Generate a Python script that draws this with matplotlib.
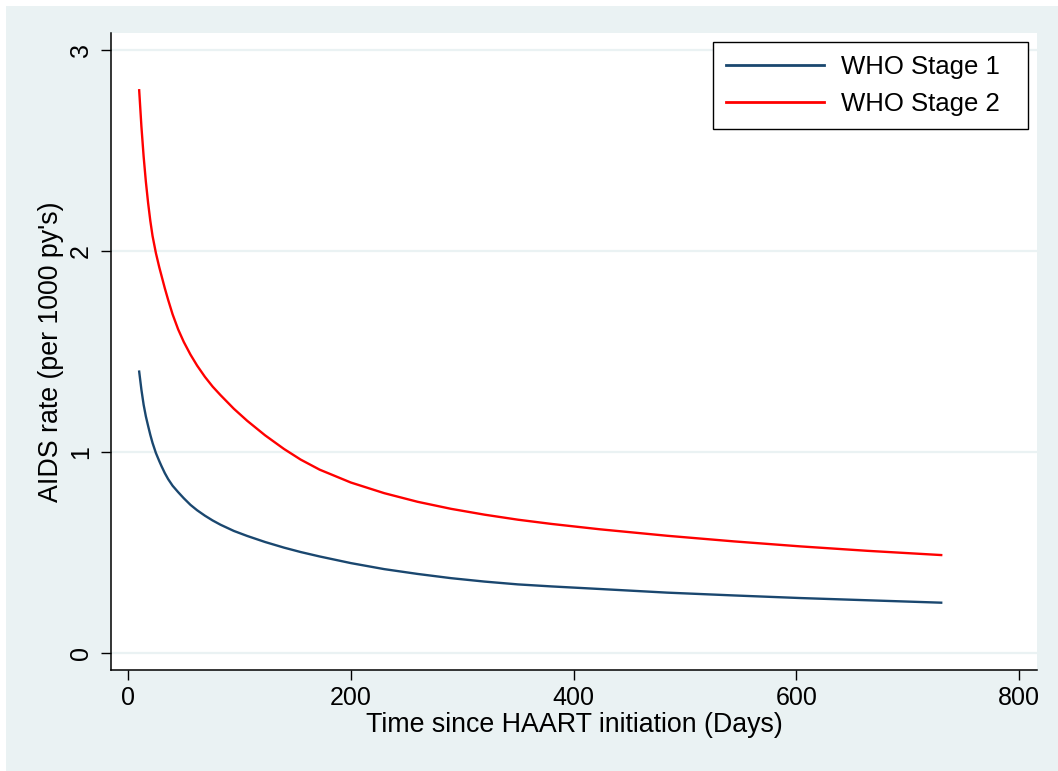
import matplotlib
matplotlib.use("Agg")
import matplotlib.pyplot as plt
from matplotlib.patches import Rectangle

plt.rcParams['font.family'] = ['Liberation Sans', 'DejaVu Sans']

# days since HAART start
days = [10, 12, 14, 16, 18, 20, 22, 25, 28, 30, 33, 36, 40, 45, 50, 56, 62,
        69, 76, 83, 95, 107, 123, 140, 155, 172, 200, 230, 260, 290, 320, 350,
        380, 424, 484, 544, 604, 664, 730]
stage1 = [1.40, 1.31, 1.235, 1.177, 1.13, 1.085, 1.045, 0.995, 0.955, 0.93,
          0.895, 0.865, 0.832, 0.80, 0.77, 0.737, 0.71, 0.683, 0.659, 0.638,
          0.607, 0.582, 0.552, 0.524, 0.502, 0.48, 0.447, 0.417, 0.393, 0.372,
          0.355, 0.341, 0.331, 0.318, 0.30, 0.286, 0.273, 0.262, 0.25]
stage2 = [2.80, 2.62, 2.47, 2.345, 2.24, 2.15, 2.075, 1.99, 1.92, 1.878, 1.815,
          1.757, 1.685, 1.61, 1.548, 1.485, 1.43, 1.374, 1.325, 1.283, 1.215,
          1.155, 1.083, 1.015, 0.962, 0.912, 0.848, 0.795, 0.752, 0.717, 0.688,
          0.663, 0.642, 0.615, 0.583, 0.555, 0.530, 0.508, 0.487]
labels = ["WHO Stage 1", "WHO Stage 2"]
xticks = [0, 200, 400, 600, 800]
yticks = [0, 1, 2, 3]

bg = '#EAF2F3'
W, H = 1058, 771
fig = plt.figure(figsize=(W / 100, H / 100), dpi=100, facecolor='white')
# stata-like graph region, slightly cropped at top/left
fig.add_artist(Rectangle((6 / W, 0), 1 - 6 / W, 1 - 6 / H,
                         transform=fig.transFigure, facecolor=bg,
                         edgecolor='none', zorder=-10))

ax = fig.add_axes([111 / W, 1 - 670 / H, (1037 - 111) / W, (670 - 33) / H])
ax.set_facecolor('white')

ax.plot(days, stage1, color='#1A476F', lw=1.7, label=labels[0], zorder=3)
ax.plot(days, stage2, color='#FF0000', lw=1.7, label=labels[1], zorder=3)

ax.set_xlim(-15.3, 816)
ax.set_ylim(-0.085, 3.085)
ax.set_xticks(xticks)
ax.set_yticks(yticks)
for y in yticks:
    ax.axhline(y, color=bg, lw=1.6, zorder=1)

for s in ['top', 'right']:
    ax.spines[s].set_visible(False)
for s in ['left', 'bottom']:
    ax.spines[s].set_linewidth(1.1)
    ax.spines[s].set_color('black')

ax.tick_params(axis='both', direction='out', length=7.2, width=1.0,
               labelsize=18, color='black')
ax.tick_params(axis='x', pad=4)
ax.tick_params(axis='y', pad=6)
for lab in ax.get_yticklabels():
    lab.set_rotation(90)
    lab.set_va('center')

ax.set_xlabel("Time since HAART initiation (Days)", fontsize=19.3, labelpad=2)
ax.set_ylabel("AIDS rate (per 1000 py's)", fontsize=19.3, labelpad=3)

# legend box spans pixels 713-1028 horizontally, top at 42
leg = ax.legend(loc='upper left', bbox_to_anchor=(0.6501, 0.5, 0.3402, 0.4859),
                mode='expand', borderaxespad=0, fontsize=18.5, frameon=True,
                fancybox=False, handlelength=3.81, handletextpad=0.66,
                labelspacing=0.5, borderpad=0.5)
leg.get_frame().set_edgecolor('black')
leg.get_frame().set_linewidth(1.0)
leg.get_frame().set_alpha(1)
for h in leg.get_lines():
    h.set_linewidth(2.0)

fig.savefig('out.png', dpi=100, facecolor=fig.get_facecolor())
